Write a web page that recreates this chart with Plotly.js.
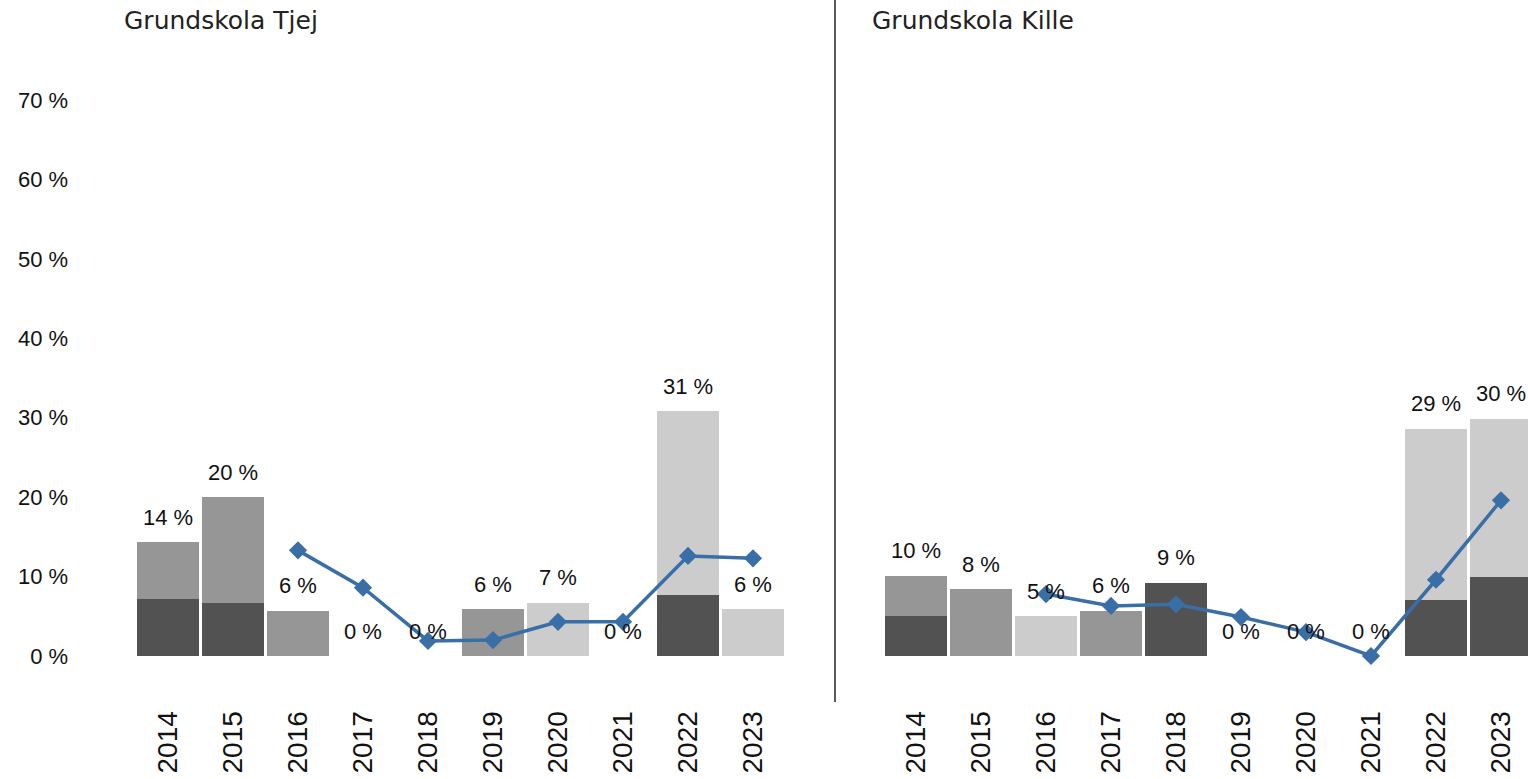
<!DOCTYPE html>
<html>
<head>
<meta charset="utf-8">
<script src="https://cdn.plot.ly/plotly-3.0.1.min.js"></script>
<style>html,body{margin:0;padding:0;background:#fff;}#chart{width:1528px;height:779px;}</style>
</head>
<body>
<div id="chart"></div>
<script>
const years = ['2014','2015','2016','2017','2018','2019','2020','2021','2022','2023'];
const yTickVals = [0,10,20,30,40,50,60,70];

// Grundskola Tjej
const tjejDark  = [7.2, 6.7, 0, 0, 0, 0, 0, 0, 7.7, 0];
const tjejMid   = [7.1, 13.3, 5.7, 0, 0, 5.9, 0, 0, 0, 0];
const tjejLight = [0, 0, 0, 0, 0, 0, 6.7, 0, 23.1, 5.9];
const tjejLine  = [null, null, 13.3, 8.6, 1.9, 2.0, 4.3, 4.3, 12.6, 12.3];

// Grundskola Kille
const killeDark  = [5.0, 0, 0, 0, 9.2, 0, 0, 0, 7.0, 9.9];
const killeMid   = [5.1, 8.4, 0, 5.7, 0, 0, 0, 0, 0, 0];
const killeLight = [0, 0, 5.0, 0, 0, 0, 0, 0, 21.6, 20.0];
const killeLine  = [null, null, 7.8, 6.3, 6.5, 4.9, 3.0, 0, 9.6, 19.6];

const cDark = '#525252', cMid = '#969696', cLight = '#cccccc', cLine = '#3a6ea6';
const labelFamily = 'Liberation Sans, Arial, sans-serif';
const labelFont = {family: labelFamily, size: 22, color: '#111'};

function sum3(a,b,c){ return a.map((v,i)=>v+b[i]+c[i]); }

const annotations = [];

function panel(dark, mid, light, line, xa, ya){
  const tot = sum3(dark, mid, light);
  const mk = (vals, col) => ({type:'bar', x:years, y:vals, xaxis:xa, yaxis:ya,
    marker:{color:col}, hoverinfo:'skip', showlegend:false});
  tot.forEach((v,i)=>{
    annotations.push({xref:xa, yref:ya, x:i, y:v, text:Math.round(v)+' %',
      showarrow:false, xanchor:'center', yanchor:'middle', yshift:25, font:labelFont});
  });
  return [
    mk(dark, cDark), mk(mid, cMid), mk(light, cLight),
    {type:'scatter', mode:'lines+markers', x:years, y:line, xaxis:xa, yaxis:ya,
     line:{color:cLine, width:3.5}, marker:{symbol:'diamond', size:14, color:cLine},
     connectgaps:false, cliponaxis:false, showlegend:false, hoverinfo:'skip'}
  ];
}

const data = [].concat(
  panel(tjejDark, tjejMid, tjejLight, tjejLine, 'x', 'y'),
  panel(killeDark, killeMid, killeLight, killeLine, 'x2', 'y2')
);

const W = 1528, H = 779;
const yDom = [(H-656)/H, (H-100)/H];
const xTickFont = {family:'Liberation Sans, Arial, sans-serif', size:28, color:'#111'};

const xaxisBase = {type:'category', tickangle:-90, tickfont:xTickFont,
  ticks:'outside', ticklen:43, tickcolor:'rgba(0,0,0,0)', showline:false,
  showgrid:false, zeroline:false, fixedrange:true};

const titleFont = {family:'DejaVu Sans, sans-serif', size:25, color:'#222'};
annotations.push(
  {text:'Grundskola Tjej', xref:'paper', yref:'paper', x:122/W, y:1-21/H,
   xanchor:'left', yanchor:'middle', showarrow:false, font:titleFont},
  {text:'Grundskola Kille', xref:'paper', yref:'paper', x:870/W, y:1-21/H,
   xanchor:'left', yanchor:'middle', showarrow:false, font:titleFont}
);

const layout = {
  width:W, height:H,
  margin:{l:0, r:0, t:0, b:0},
  paper_bgcolor:'#fff', plot_bgcolor:'rgba(0,0,0,0)',
  barmode:'stack', bargap:0.06,
  showlegend:false,
  xaxis: Object.assign({}, xaxisBase, {domain:[135.5/W, 785.5/W], range:[-0.5, 9.5], anchor:'y'}),
  xaxis2: Object.assign({}, xaxisBase, {domain:[883.5/W, 1], range:[-0.5, -0.5 + (W-883.5)/65], anchor:'y2'}),
  yaxis: {domain:yDom, range:[0,70], tickvals:yTickVals, ticktext:yTickVals.map(v=>v+' %'),
    tickfont:{family:labelFamily, size:22, color:'#111'},
    ticks:'outside', ticklen:62, tickcolor:'rgba(0,0,0,0)',
    showgrid:false, zeroline:false, showline:false, anchor:'x', fixedrange:true},
  yaxis2: {domain:yDom, range:[0,70], showticklabels:false, showgrid:false,
    zeroline:false, showline:false, anchor:'x2', fixedrange:true},
  annotations: annotations,
  shapes:[
    {type:'line', xref:'paper', yref:'paper', x0:835/W, x1:835/W, y0:(H-702)/H, y1:1,
     line:{color:'#222', width:1.5}}
  ]
};

Plotly.newPlot('chart', data, layout, {displayModeBar:false, staticPlot:true});
</script>
</body>
</html>
